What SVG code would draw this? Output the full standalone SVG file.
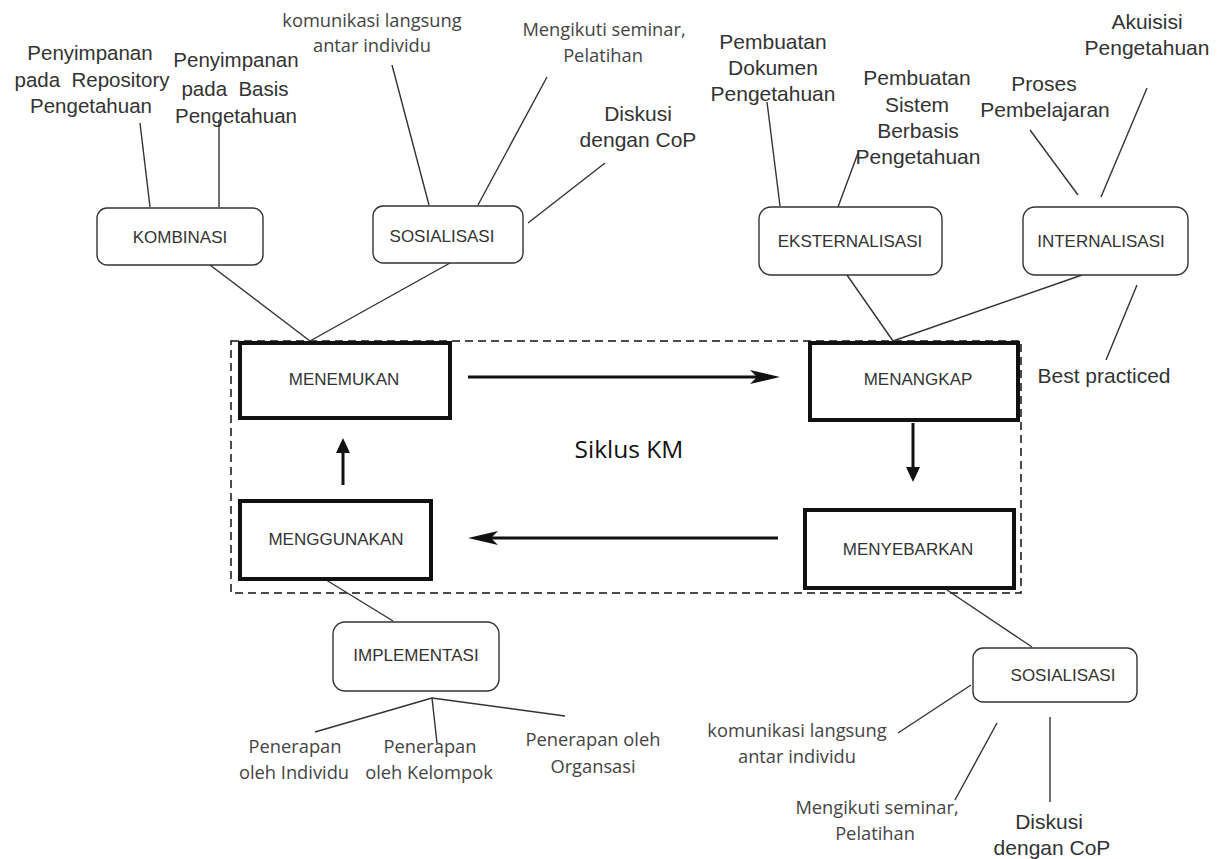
<svg xmlns="http://www.w3.org/2000/svg" width="1226" height="859" viewBox="0 0 1226 859">
<style>
.bg{fill:#fff}
.soft{fill:#fff;stroke:#333;stroke-width:1.4}
.core{fill:#fff;stroke:#111;stroke-width:4}
.nl{font-family:"Liberation Sans",Arial,sans-serif;font-size:17px;fill:#333;text-anchor:middle}
.ar{font-family:"Liberation Sans",Arial,sans-serif;font-size:20.5px;fill:#333;text-anchor:middle}
.ca{font-family:"Open Sans","Noto Sans",sans-serif;font-size:18.3px;fill:#444;text-anchor:middle}
.title{font-family:"Open Sans","Noto Sans",sans-serif;font-size:24.5px;fill:#111;text-anchor:middle}
.thin{stroke:#333;stroke-width:1.4;fill:none}
.thick{stroke:#111;stroke-width:3;fill:none}
.dash{fill:none;stroke:#111;stroke-width:1.5;stroke-dasharray:8 5}
</style>
<defs>
<marker id="big" markerUnits="userSpaceOnUse" markerWidth="32" markerHeight="16" refX="20" refY="7" orient="auto">
<path d="M0,0 L30,7 L0,14 L7,7 z" fill="#111"/>
</marker>
<marker id="small" markerUnits="userSpaceOnUse" markerWidth="16" markerHeight="16" refX="8" refY="7" orient="auto">
<path d="M0,0 L15,7 L0,14 z" fill="#111"/>
</marker>
</defs>
<rect class="bg" x="0" y="0" width="1226" height="859"/>

<rect id="siklus-frame" class="dash" x="231" y="341" width="790" height="252"/>
<text class="title" x="629" y="458">Siklus KM</text>

<g id="connectors">
<line class="thin" x1="140" y1="123" x2="150" y2="207"/>
<line class="thin" x1="219" y1="120" x2="219" y2="207"/>
<line class="thin" x1="210" y1="265" x2="310" y2="341"/>
<line class="thin" x1="450" y1="263" x2="310" y2="341"/>
<line class="thin" x1="392" y1="65" x2="429" y2="205"/>
<line class="thin" x1="547" y1="77" x2="478" y2="205"/>
<line class="thin" x1="605" y1="163" x2="528" y2="223"/>
<line class="thin" x1="767" y1="102" x2="780" y2="206"/>
<line class="thin" x1="858" y1="153" x2="838" y2="207"/>
<line class="thin" x1="1030" y1="130" x2="1078" y2="195"/>
<line class="thin" x1="1147" y1="88" x2="1101" y2="197"/>
<line class="thin" x1="847" y1="275" x2="893" y2="341"/>
<line class="thin" x1="1082" y1="275" x2="893" y2="341"/>
<line class="thin" x1="1137" y1="285" x2="1106" y2="360"/>
<line class="thin" x1="323" y1="578" x2="393" y2="621"/>
<line class="thin" x1="432" y1="698" x2="315" y2="732"/>
<line class="thin" x1="432" y1="698" x2="437" y2="743"/>
<line class="thin" x1="432" y1="698" x2="565" y2="716"/>
<line class="thin" x1="947" y1="590" x2="1032" y2="647"/>
<line class="thin" x1="971" y1="685" x2="898" y2="733"/>
<line class="thin" x1="997" y1="723" x2="955" y2="800"/>
<line class="thin" x1="1050" y1="717" x2="1050" y2="802"/>
<line class="thick" x1="468" y1="377" x2="770" y2="377" marker-end="url(#big)"/>
<line class="thick" x1="913" y1="423" x2="913" y2="475" marker-end="url(#small)"/>
<line class="thick" x1="778" y1="538" x2="478" y2="538" marker-end="url(#big)"/>
<line class="thick" x1="343" y1="485" x2="343" y2="445" marker-end="url(#small)"/>
</g>

<g id="kombinasi"><rect class="soft" x="97" y="208" width="166" height="57" rx="10"/><text class="nl" x="180" y="243">KOMBINASI</text></g>
<g id="sosialisasi-atas"><rect class="soft" x="373" y="206" width="150" height="57" rx="10"/><text class="nl" x="442" y="242">SOSIALISASI</text></g>
<g id="eksternalisasi"><rect class="soft" x="759" y="207" width="183" height="68" rx="12"/><text class="nl" x="850" y="247">EKSTERNALISASI</text></g>
<g id="internalisasi"><rect class="soft" x="1023" y="207" width="165" height="68" rx="12"/><text class="nl" x="1101" y="247">INTERNALISASI</text></g>
<g id="implementasi"><rect class="soft" x="333" y="622" width="166" height="69" rx="12"/><text class="nl" x="416" y="661">IMPLEMENTASI</text></g>
<g id="sosialisasi-bawah"><rect class="soft" x="973" y="648" width="164" height="54" rx="10"/><text class="nl" x="1063" y="681">SOSIALISASI</text></g>

<g id="menemukan"><rect class="core" x="240" y="343" width="210" height="75"/><text class="nl" x="344" y="385">MENEMUKAN</text></g>
<g id="menangkap"><rect class="core" x="810" y="343" width="208" height="77"/><text class="nl" x="918" y="385">MENANGKAP</text></g>
<g id="menggunakan"><rect class="core" x="240" y="501" width="191" height="78"/><text class="nl" x="336" y="545">MENGGUNAKAN</text></g>
<g id="menyebarkan"><rect class="core" x="805" y="510" width="209" height="78"/><text class="nl" x="908" y="555">MENYEBARKAN</text></g>

<g id="label-repository"><text class="ar" x="90" y="60">Penyimpanan</text><text class="ar" x="92" y="87" xml:space="preserve">pada  Repository</text><text class="ar" x="91" y="113">Pengetahuan</text></g>
<g id="label-basis"><text class="ar" x="236" y="67">Penyimpanan</text><text class="ar" x="235" y="96" xml:space="preserve">pada  Basis</text><text class="ar" x="236" y="123">Pengetahuan</text></g>
<g id="label-komunikasi-atas"><text class="ca" x="372" y="27">komunikasi langsung</text><text class="ca" x="372" y="52">antar individu</text></g>
<g id="label-seminar-atas"><text class="ca" x="604" y="36">Mengikuti seminar,</text><text class="ca" x="603" y="62">Pelatihan</text></g>
<g id="label-diskusi-atas"><text class="ar" x="638" y="121" style="font-size:21px">Diskusi</text><text class="ar" x="638" y="147" style="font-size:21px">dengan CoP</text></g>
<g id="label-dokumen"><text class="ar" x="773" y="49" style="font-size:21px">Pembuatan</text><text class="ar" x="773" y="75" style="font-size:21px">Dokumen</text><text class="ar" x="773" y="101" style="font-size:21px">Pengetahuan</text></g>
<g id="label-sistem"><text class="ar" x="917" y="85" style="font-size:21px">Pembuatan</text><text class="ar" x="917" y="112" style="font-size:21px">Sistem</text><text class="ar" x="918" y="138" style="font-size:21px">Berbasis</text><text class="ar" x="918" y="164" style="font-size:21px">Pengetahuan</text></g>
<g id="label-proses"><text class="ar" x="1044" y="91" style="font-size:21px">Proses</text><text class="ar" x="1045" y="117" style="font-size:21px">Pembelajaran</text></g>
<g id="label-akuisisi"><text class="ar" x="1147" y="29" style="font-size:21px">Akuisisi</text><text class="ar" x="1147" y="55" style="font-size:21px">Pengetahuan</text></g>
<g id="label-best"><text class="ar" x="1104" y="383" style="font-size:21px">Best practiced</text></g>
<g id="label-individu"><text class="ca" x="295" y="753">Penerapan</text><text class="ca" x="294" y="779">oleh Individu</text></g>
<g id="label-kelompok"><text class="ca" x="430" y="753">Penerapan</text><text class="ca" x="429" y="779">oleh Kelompok</text></g>
<g id="label-organisasi"><text class="ca" x="593" y="746">Penerapan oleh</text><text class="ca" x="593" y="773">Organsasi</text></g>
<g id="label-komunikasi-bawah"><text class="ca" x="797" y="737">komunikasi langsung</text><text class="ca" x="797" y="763">antar individu</text></g>
<g id="label-seminar-bawah"><text class="ca" x="877" y="814">Mengikuti seminar,</text><text class="ca" x="875" y="840">Pelatihan</text></g>
<g id="label-diskusi-bawah"><text class="ar" x="1049" y="829" style="font-size:21px">Diskusi</text><text class="ar" x="1052" y="855" style="font-size:21px">dengan CoP</text></g>
</svg>
